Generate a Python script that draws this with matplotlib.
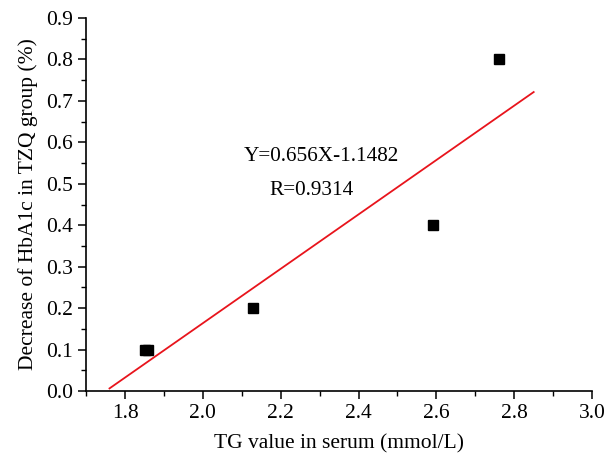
import matplotlib
matplotlib.use("Agg")
import matplotlib.pyplot as plt
from matplotlib.ticker import MultipleLocator
import numpy as np

# data
tg = [1.85, 1.86, 2.13, 2.59, 2.76]
hba1c = [0.1, 0.1, 0.2, 0.4, 0.8]
slope = 0.656
intercept = -1.1482
fit_x = [1.76, 2.85]

plt.rcParams['font.family'] = ['Liberation Serif', 'DejaVu Serif']

fig = plt.figure(figsize=(6.11, 4.74), dpi=100)
ax = fig.add_axes([0.141, 0.175, 0.828, 0.787])

fx = np.array(fit_x)
ax.plot(fx, slope * fx + intercept, color='#e8141c', lw=1.3)
ax.plot(tg, hba1c, 's', color='black', ms=6.5)

ax.text(2.105, 0.565, "Y=0.656X-1.1482", fontsize=15.3, va='center')
ax.text(2.17, 0.483, "R=0.9314", fontsize=15.3, va='center')

ax.set_xlim(1.7, 3.0)
ax.set_ylim(0.0, 0.9)
ax.xaxis.set_major_locator(MultipleLocator(0.2))
ax.xaxis.set_minor_locator(MultipleLocator(0.1))
ax.yaxis.set_major_locator(MultipleLocator(0.1))
ax.yaxis.set_minor_locator(MultipleLocator(0.05))
ax.xaxis.set_major_formatter(plt.FormatStrFormatter('%.1f'))
ax.yaxis.set_major_formatter(plt.FormatStrFormatter('%.1f'))

for s in ['top', 'right']:
    ax.spines[s].set_visible(False)
for s in ['left', 'bottom']:
    ax.spines[s].set_linewidth(1.2)

ax.tick_params(which='major', direction='out', length=6, width=1.1, labelsize=15.5)
ax.tick_params(which='minor', direction='out', length=3.5, width=1.0)

ax.set_xlabel("TG value in serum (mmol/L)", fontsize=15.5, labelpad=8)
ax.set_ylabel("Decrease of HbA1c in TZQ group (%)", fontsize=15.5, labelpad=6)

fig.savefig("out.png", dpi=100)
